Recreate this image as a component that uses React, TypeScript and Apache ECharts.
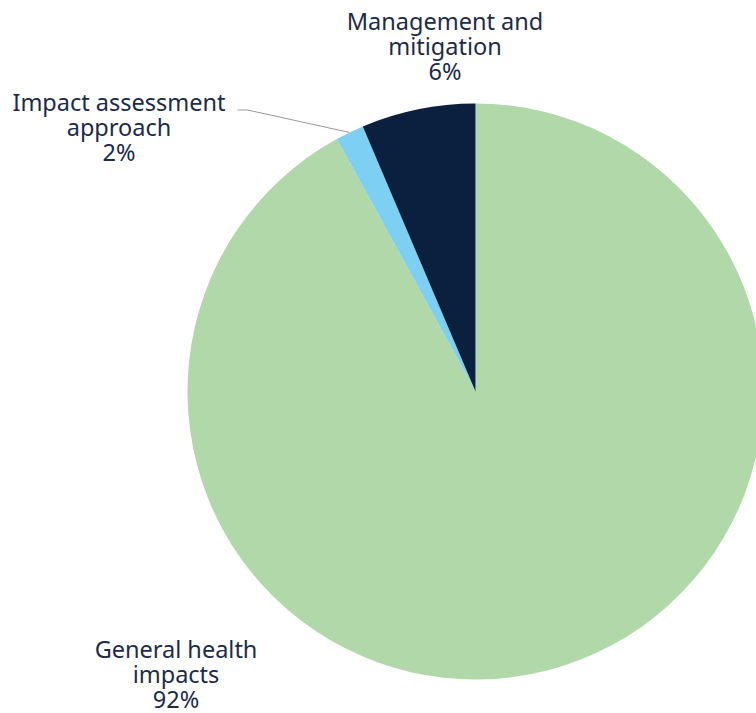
import React, { useEffect, useRef } from "react";
import * as echarts from "echarts";

const categories = ["General health\nimpacts", "Impact assessment\napproach", "Management and\nmitigation"];
const values = [92.0, 1.6, 6.4];
const colors = ["#b0d8a8", "#7ed0f2", "#0b1f3f"];
const labelPos = [
  { x: 176, y: 674 },
  { x: 119, y: 127 },
  { x: 445, y: 46 },
];

export default function App() {
  const ref = useRef<HTMLDivElement>(null);
  useEffect(() => {
    document.body.style.margin = "0";
    const chart = echarts.init(ref.current!, null, { renderer: "svg" });
    chart.setOption({
      animation: false,
      backgroundColor: "#ffffff",
      series: [
        {
          type: "pie",
          center: [475.5, 391.5],
          radius: 288,
          startAngle: 90,
          clockwise: true,
          avoidLabelOverlap: false,
          data: categories.map((c, i) => ({
            name: c,
            value: values[i],
            itemStyle: { color: colors[i] },
            labelLine: { show: i === 1 },
          })),
          label: {
            show: true,
            position: "outside",
            color: "#1c2b4b",
            fontFamily: "Noto Sans",
            fontSize: 23.5,
            lineHeight: 25,
            align: "center",
            formatter: (p: any) => `${p.name}\n${Math.round(p.percent)}%`,
          },
          labelLine: {
            length: 20,
            length2: 10,
            lineStyle: { color: "#999999", width: 1 },
          },
          labelLayout: (params: any) => {
            const pos = labelPos[params.dataIndex];
            const out: any = { x: pos.x, y: pos.y, align: "center", verticalAlign: "middle" };
            const pts = params.labelLinePoints;
            if (params.dataIndex === 1 && pts && pts.length) {
              const right = pos.x + params.labelRect.width / 2;
              const lineY = pos.y - 17;
              out.labelLinePoints = [pts[0], [right + 22, lineY], [right + 12, lineY]];
            }
            return out;
          },
        },
      ],
    });
    return () => chart.dispose();
  }, []);
  return <div ref={ref} style={{ width: 756, height: 713 }} />;
}
